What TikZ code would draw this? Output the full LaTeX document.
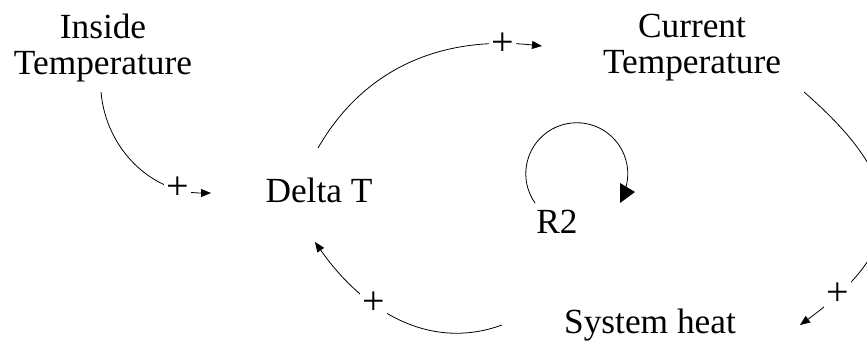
\documentclass[tikz,border=0pt]{standalone}
\usepackage{fontspec}
\setmainfont{Liberation Serif}
\usetikzlibrary{arrows.meta}

\begin{document}
\begin{tikzpicture}[
    x=0.75pt, y=0.75pt,
    var/.style={font=\fontsize{26.5}{28.5}\selectfont, align=center, inner sep=0pt},
    link/.style={line width=0.6pt, -{Triangle[length=7.5pt, width=6pt]}},
    pol/.style={font=\fontsize{30}{32}\selectfont, fill=white, inner sep=1.5pt},
    loopline/.style={line width=0.6pt}
]
\useasboundingbox (0,0) rectangle (867,343);

\node[var] (inside) at (103,295) {Inside\\[-1.5pt]Temperature};
\node[var] (current) at (692,295) {Current\\[-1.5pt]Temperature};
\node[var, anchor=base] (delta) at (319,140) {Delta T};
\node[var, anchor=base] (heat) at (650,10) {System heat};
\node[var, anchor=base] (r2) at (557,110) {R2};

% causal links
\draw[link] ([shift={(-2,-44)}]inside.center) to[out=-85, in=180]
    node[pol, pos=0.8] {+} ([shift={(-108,10)}]delta.base);
\draw[link] ([shift={(-1,55)}]delta.base) to[out=60, in=174]
    node[pol, pos=0.86] {+} ([shift={(-150,2)}]current.center);
\draw[link] ([shift={(112,-44)}]current.center) to[out=-41, in=36, looseness=1.5]
    node[pol, pos=0.87] {+} ([shift={(150,8)}]heat.base);
\draw[link] ([shift={(-148,8)}]heat.base) to[out=200, in=-55]
    node[pol, pos=0.63] {+} ([shift={(-4,-39)}]delta.base);

% loop marker
\draw[loopline] (535,140) arc[start angle=215, end angle=-15, radius=51];
\fill (620,160) -- (620,140) -- (635,151) -- cycle;

\end{tikzpicture}
\end{document}
